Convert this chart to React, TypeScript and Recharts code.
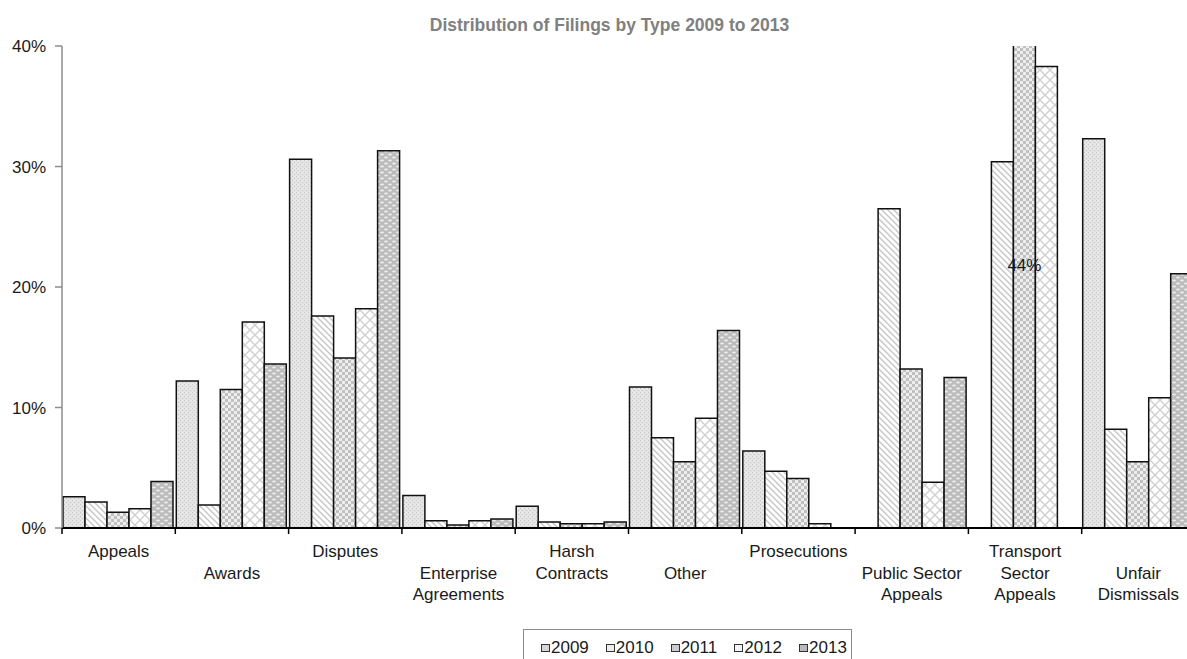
import { Bar, BarChart, LabelList, XAxis, YAxis } from "recharts";

const categories = [
  "Appeals",
  "Awards",
  "Disputes",
  "Enterprise Agreements",
  "Harsh Contracts",
  "Other",
  "Prosecutions",
  "Public Sector Appeals",
  "Transport Sector Appeals",
  "Unfair Dismissals",
];

// how each category name wraps under the axis
const tickLines = [
  ["Appeals"],
  ["Awards"],
  ["Disputes"],
  ["Enterprise", "Agreements"],
  ["Harsh", "Contracts"],
  ["Other"],
  ["Prosecutions"],
  ["Public Sector", "Appeals"],
  ["Transport", "Sector", "Appeals"],
  ["Unfair", "Dismissals"],
];

const years = ["2009", "2010", "2011", "2012", "2013"];

// share of filings, percent
const y2009 = [2.6, 12.2, 30.6, 2.7, 1.8, 11.7, 6.4, 0, 0, 32.3];
const y2010 = [2.15, 1.9, 17.6, 0.6, 0.5, 7.5, 4.7, 26.5, 30.4, 8.2];
const y2011 = [1.3, 11.5, 14.1, 0.25, 0.35, 5.5, 4.1, 13.2, 44, 5.5];
const y2012 = [1.6, 17.1, 18.2, 0.6, 0.35, 9.1, 0.35, 3.8, 38.3, 10.8];
const y2013 = [3.85, 13.6, 31.3, 0.75, 0.5, 16.4, 0, 12.5, 0, 21.1];

const yTicks = [0, 10, 20, 30, 40];

const data = categories.map((name, i) => ({
  name,
  y2009: y2009[i],
  y2010: y2010[i],
  y2011: y2011[i],
  y2012: y2012[i],
  y2013: y2013[i],
}));

const FONT = '"Liberation Sans", Arial, sans-serif';
const swatch = ["#d6d6d6", "#ececec", "#cccccc", "#f4f4f4", "#b9b9b9"];

function CategoryTick(props: any) {
  const { x, y, payload, index } = props;
  const half = payload?.offset ?? 56.6;
  const lines = tickLines[index] ?? [String(payload.value)];
  const first = index % 2; // alternate labels drop by one line
  return (
    <g>
      <line x1={x - half} y1={y} x2={x - half} y2={y + 6} stroke="#000" strokeWidth={1.5} />
      {index === categories.length - 1 && (
        <line x1={x + half} y1={y} x2={x + half} y2={y + 6} stroke="#000" strokeWidth={1.5} />
      )}
      <text textAnchor="middle" fontSize={17} fill="#1a1a1a" fontFamily={FONT}>
        {lines.map((l, i) => (
          <tspan key={i} x={x} y={y + 29 + (first + i) * 21.5}>
            {l}
          </tspan>
        ))}
      </text>
    </g>
  );
}

function OverflowLabel(props: any) {
  const { x, y, width, height, value } = props;
  if (value < 40) return null;
  return (
    <text
      x={x + width / 2}
      y={y + height / 2}
      dy={3}
      textAnchor="middle"
      dominantBaseline="central"
      fontSize={17}
      fill="#1a1a1a"
      fontFamily={FONT}
    >
      {value}%
    </text>
  );
}

export default function App() {
  return (
    <div
      style={{
        position: "absolute",
        left: 0,
        top: 0,
        width: 1187,
        height: 659,
        overflow: "hidden",
        background: "#fff",
        fontFamily: FONT,
      }}
    >
      <div
        style={{
          position: "absolute",
          left: 0,
          top: 15,
          width: 1219,
          textAlign: "center",
          fontSize: 17.5,
          lineHeight: "20px",
          fontWeight: "bold",
          color: "#808080",
        }}
      >
        Distribution of Filings by Type 2009 to 2013
      </div>

      <BarChart
        width={1195}
        height={659}
        data={data}
        margin={{ top: 46, right: 0, bottom: 101, left: 0 }}
        barCategoryGap={1}
        barGap={0}
      >
        <defs>
          <pattern id="p2009" width="4" height="4" patternUnits="userSpaceOnUse">
            <rect width="4" height="4" fill="#e4e4e4" />
            <rect x="0" y="0" width="1" height="1" fill="#c4c4c4" />
            <rect x="2" y="2" width="1" height="1" fill="#c4c4c4" />
            <rect x="2" y="0" width="1" height="1" fill="#f2f2f2" />
          </pattern>
          <pattern id="p2010" width="6" height="6" patternUnits="userSpaceOnUse">
            <rect width="6" height="6" fill="#fff" />
            <path d="M-1,-1 L7,7 M-1,5 L1,7 M5,-1 L7,1" stroke="#c6c6c6" strokeWidth="1.4" />
          </pattern>
          <pattern id="p2011" width="6" height="6" patternUnits="userSpaceOnUse">
            <rect width="6" height="6" fill="#eeeeee" />
            <rect x="0" y="0" width="3" height="3" fill="#c0c0c0" />
            <rect x="3" y="3" width="3" height="3" fill="#c0c0c0" />
          </pattern>
          <pattern id="p2012" width="10" height="10" patternUnits="userSpaceOnUse">
            <rect width="10" height="10" fill="#fff" />
            <path d="M0,0 L10,10 M10,0 L0,10" stroke="#d0d0d0" strokeWidth="1.4" />
          </pattern>
          <pattern id="p2013" width="8" height="6" patternUnits="userSpaceOnUse">
            <rect width="8" height="6" fill="#bcbcbc" />
            <ellipse cx="2" cy="1.5" rx="2" ry="0.9" fill="#ececec" />
            <ellipse cx="6" cy="4.5" rx="2" ry="0.9" fill="#ececec" />
          </pattern>
        </defs>

        <XAxis
          dataKey="name"
          interval={0}
          height={30}
          tickSize={0}
          tickMargin={0}
          tickLine={false}
          axisLine={{ stroke: "#000", strokeWidth: 2 }}
          tick={<CategoryTick />}
        />
        <YAxis
          width={62}
          domain={[0, 40]}
          allowDataOverflow
          ticks={yTicks}
          tickFormatter={(v) => `${v}%`}
          tickSize={7}
          tickMargin={9}
          axisLine={{ stroke: "#8c8c8c", strokeWidth: 1.5 }}
          tickLine={{ stroke: "#8c8c8c", strokeWidth: 1.5 }}
          tick={{ fontSize: 17, fill: "#1a1a1a", fontFamily: FONT }}
        />

        {years.map((yr) => (
          <Bar
            key={yr}
            dataKey={`y${yr}`}
            name={yr}
            fill={`url(#p${yr})`}
            stroke="#111"
            strokeWidth={1.5}
            isAnimationActive={false}
          >
            {yr === "2011" && <LabelList dataKey="y2011" content={<OverflowLabel />} />}
          </Bar>
        ))}
      </BarChart>

      <div
        style={{
          position: "absolute",
          left: 523,
          top: 629,
          width: 329,
          height: 40,
          border: "1px solid #8c8c8c",
          boxSizing: "border-box",
          display: "flex",
          alignItems: "flex-start",
          paddingLeft: 17,
          paddingTop: 8,
          gap: 17,
          fontSize: 17,
          lineHeight: "20px",
          color: "#1a1a1a",
        }}
      >
        {years.map((yr, i) => (
          <div key={yr} style={{ display: "flex", alignItems: "center" }}>
            <span
              style={{
                display: "inline-block",
                width: 7,
                height: 6,
                background: swatch[i],
                border: "1px solid #333",
                marginRight: 1,
              }}
            />
            {yr}
          </div>
        ))}
      </div>
    </div>
  );
}
